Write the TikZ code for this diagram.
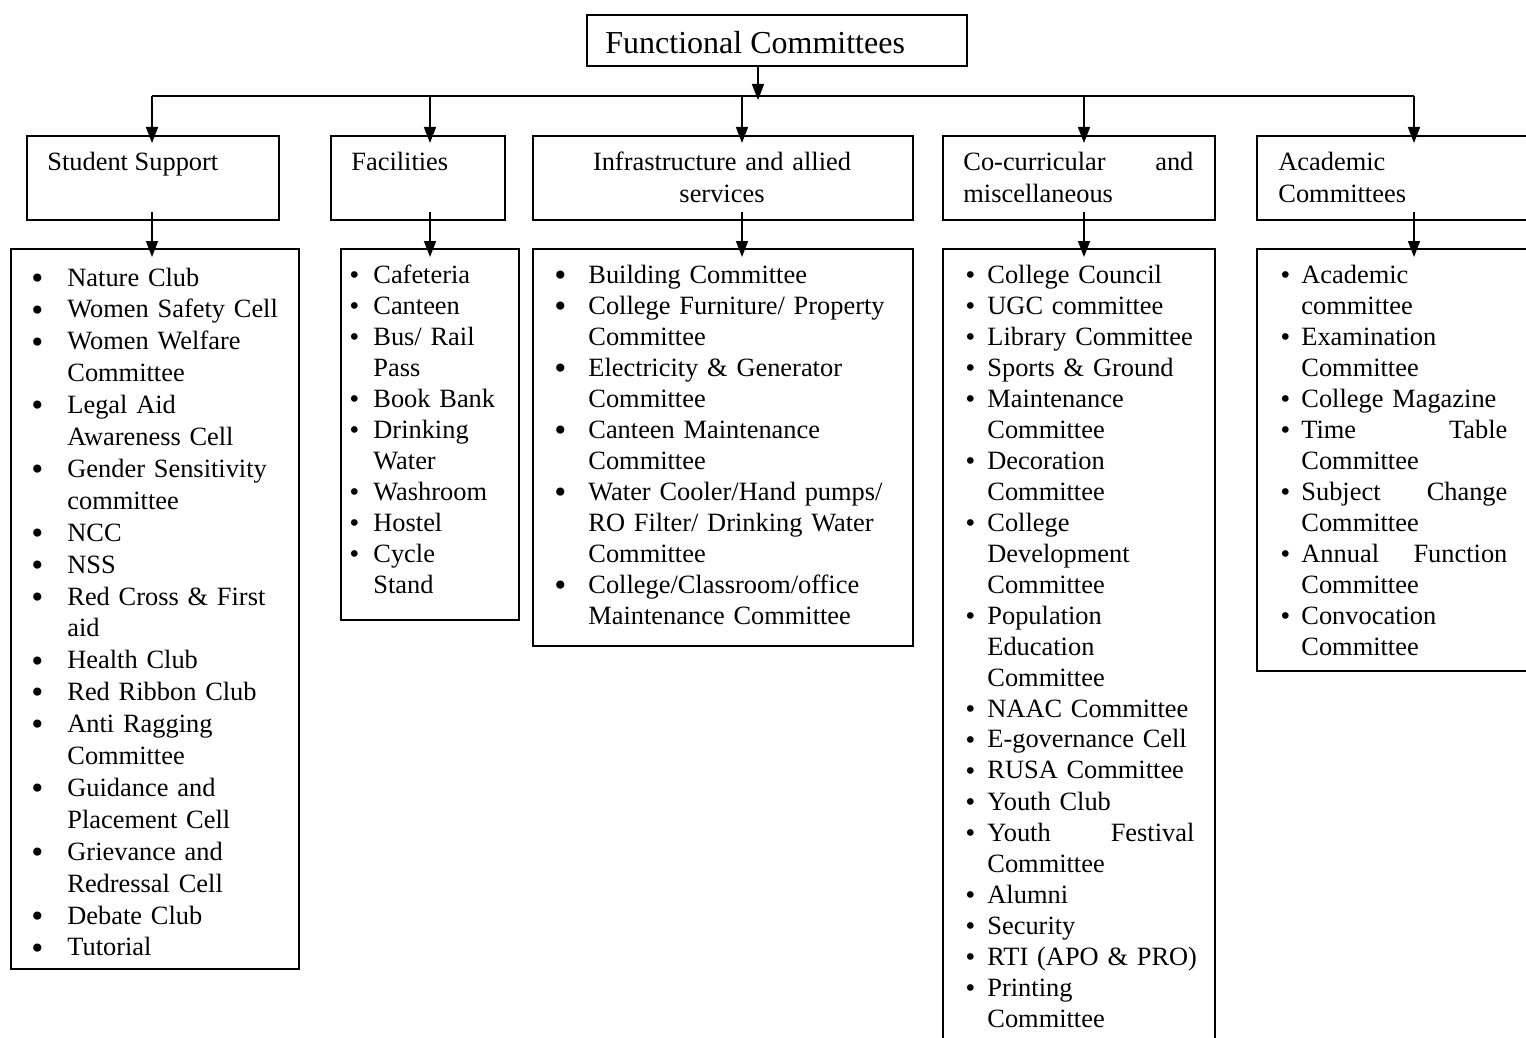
\documentclass[tikz,border=0pt]{standalone}
\usepackage{fontspec}
\setmainfont{Liberation Serif}
\newfontfamily\bulletfont{DejaVu Sans}
\usetikzlibrary{arrows.meta,calc}

\newlength\bind
\newcommand\bsz{11.5}
\newcommand\bdrop{-0.3pt}
\newcommand\bl{\makebox[\bind][l]{\makebox[0pt]{%
    \raisebox{\bdrop}{\bulletfont\fontsize{\bsz}{\bsz}\selectfont\textbullet}}}}
\newcommand\ct{\hspace*{\bind}}

\begin{document}
\begin{tikzpicture}[x=0.5pt,y=-0.5pt,
        box/.style={draw,line width=0.9pt,inner sep=0pt,anchor=north west},
        label text/.style={anchor=base west,inner sep=0pt,font=\fontsize{13.2}{16}\selectfont},
        item list/.style n args={3}{label text,align=left,font=\fontsize{13.2}{15.5}\selectfont,
            execute at begin node={\setlength\bind{#1}\renewcommand\bsz{#2}\renewcommand\bdrop{#3}}},
        arrow line/.style={line width=0.8pt,-{Triangle[length=8pt,width=6pt]}}]

        \useasboundingbox (0,0) rectangle (1526,1038);
        \clip (0,0) rectangle (1526,1038);

        % Define boxes
        \node[box,minimum width=190pt,minimum height=25.5pt] (fc) at (586,14) {};
        \node[box,minimum width=126pt,minimum height=42pt] (ss) at (26,135) {};
        \node[box,minimum width=87pt,minimum height=42pt] (fac) at (330,135) {};
        \node[box,minimum width=190pt,minimum height=42pt] (inf) at (532,135) {};
        \node[box,minimum width=136pt,minimum height=42pt] (cc) at (942,135) {};
        \node[box,minimum width=150pt,minimum height=42pt] (ac) at (1256,135) {};
        \node[box,minimum width=144pt,minimum height=360pt] (ssl) at (10,248) {};
        \node[box,minimum width=89pt,minimum height=185.5pt] (facl) at (340,248) {};
        \node[box,minimum width=190pt,minimum height=198.5pt] (infl) at (532,248) {};
        \node[box,minimum width=136pt,minimum height=420pt] (ccl) at (942,248) {};
        \node[box,minimum width=150pt,minimum height=211pt] (acl) at (1256,248) {};

        % Headings
        \node[label text,font=\fontsize{16}{19}\selectfont] (fct) at (605,54) {Functional Committees};
        \node[label text] (sst) at (47,170) {Student Support};
        \node[label text] (fact) at (351,170) {Facilities};
        \node[label text,anchor=base,text width=180pt,align=center] (inft) at (722,170)
            {Infrastructure and allied\\services};
        \node[label text,text width=115pt,align=left] (cct) at (963,170)
            {Co-curricular\hfill and\\miscellaneous};
        \node[label text,text width=115pt,align=left] (act) at (1278,170)
            {Academic\\Committees};

        % Lists
        \node[item list={15pt}{14}{-1.1pt},font=\fontsize{13.2}{15.95}\selectfont,text width=125pt] (sslt) at (37,286) {%
            \bl Nature Club\\
            \bl Women Safety Cell\\
            \bl Women Welfare\\
            \ct Committee\\
            \bl Legal Aid\\
            \ct Awareness Cell\\
            \bl Gender Sensitivity\\
            \ct committee\\
            \bl NCC\\
            \bl NSS\\
            \bl Red Cross \& First\\
            \ct aid\\
            \bl Health Club\\
            \bl Red Ribbon Club\\
            \bl Anti Ragging\\
            \ct Committee\\
            \bl Guidance and\\
            \ct Placement Cell\\
            \bl Grievance and\\
            \ct Redressal Cell\\
            \bl Debate Club\\
            \bl Tutorial};
        \node[item list={9.5pt}{11.5}{-0.3pt},text width=80pt] (faclt) at (354,283) {%
            \bl Cafeteria\\
            \bl Canteen\\
            \bl Bus/ Rail\\
            \ct Pass\\
            \bl Book Bank\\
            \bl Drinking\\
            \ct Water\\
            \bl Washroom\\
            \bl Hostel\\
            \bl Cycle\\
            \ct Stand};
        \node[item list={14pt}{14}{-1.1pt},text width=172pt] (inflt) at (560,283) {%
            \bl Building Committee\\
            \bl College Furniture/ Property\\
            \ct Committee\\
            \bl Electricity \& Generator\\
            \ct Committee\\
            \bl Canteen Maintenance\\
            \ct Committee\\
            \bl Water Cooler/Hand pumps/\\
            \ct RO Filter/ Drinking Water\\
            \ct Committee\\
            \bl College/Classroom/office\\
            \ct Maintenance Committee};
        \node[item list={8.5pt}{11.5}{-0.3pt},text width=112pt] (cclt) at (970,283) {%
            \bl College Council\\
            \bl UGC committee\\
            \bl Library Committee\\
            \bl Sports \& Ground\\
            \bl Maintenance\\
            \ct Committee\\
            \bl Decoration\\
            \ct Committee\\
            \bl College\\
            \ct Development\\
            \ct Committee\\
            \bl Population\\
            \ct Education\\
            \ct Committee\\
            \bl NAAC Committee\\
            \bl E-governance Cell\\
            \bl RUSA Committee\\
            \bl Youth Club\\
            \bl Youth\hfill Festival\\
            \ct Committee\\
            \bl Alumni\\
            \bl Security\\
            \bl \mbox{RTI (APO \& PRO)}\\
            \bl Printing\\
            \ct Committee};
        \node[item list={8pt}{11.5}{-0.3pt},text width=111pt] (aclt) at (1285,283) {%
            \bl Academic\\
            \ct committee\\
            \bl Examination\\
            \ct Committee\\
            \bl College Magazine\\
            \bl Time\hfill Table\\
            \ct Committee\\
            \bl Subject\hfill Change\\
            \ct Committee\\
            \bl Annual\hfill Function\\
            \ct Committee\\
            \bl Convocation\\
            \ct Committee};

        % Draw connectors
        \coordinate (bus) at (758,96);
        \coordinate (d1) at (152,96);
        \coordinate (d2) at (430,96);
        \coordinate (d3) at (742,96);
        \coordinate (d4) at (1084,96);
        \coordinate (d5) at (1414,96);
        \draw[line width=0.8pt] (d1) -- (d5);
        \draw[arrow line] (fc.south -| bus) -- ($(bus)+(0,4)$);
        \foreach \d/\b/\l in {d1/ss/ssl,d2/fac/facl,d3/inf/infl,d4/cc/ccl,d5/ac/acl}{
            \draw[arrow line] (\d) -- ($(\d |- \b.north)+(0,8)$);
            \draw[arrow line] ($(\d |- \b.south)+(0,-9)$) -- ($(\d |- \l.north)+(0,9)$);
        }

\end{tikzpicture}
\end{document}
